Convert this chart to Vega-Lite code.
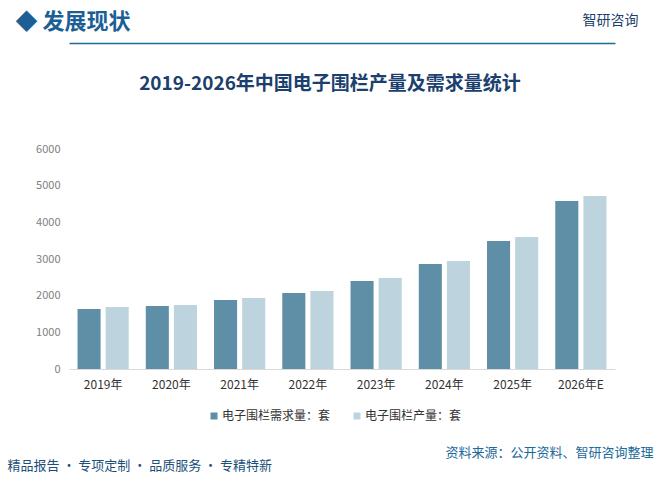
{
  "$schema": "https://vega.github.io/schema/vega-lite/v6.json",
  "width": 546,
  "height": 220,
  "autosize": {"type": "none"},
  "padding": {"left": 69, "top": 149, "right": 48, "bottom": 114},
  "background": "white",
  "config": {"font": "Noto Sans CJK SC", "view": {"stroke": null}},
  "title": {
    "text": "2019-2026年中国电子围栏产量及需求量统计",
    "fontSize": 19,
    "fontWeight": "bold",
    "color": "#1b406d",
    "anchor": "middle",
    "frame": "group",
    "dx": -12,
    "dy": 93,
    "baseline": "middle",
    "offset": 0
  },
  "data": {
    "values": [
      {"year": "2019年", "series": "电子围栏需求量：套", "value": 1636},
      {"year": "2019年", "series": "电子围栏产量：套", "value": 1690},
      {"year": "2020年", "series": "电子围栏需求量：套", "value": 1718},
      {"year": "2020年", "series": "电子围栏产量：套", "value": 1745},
      {"year": "2021年", "series": "电子围栏需求量：套", "value": 1882},
      {"year": "2021年", "series": "电子围栏产量：套", "value": 1936},
      {"year": "2022年", "series": "电子围栏需求量：套", "value": 2073},
      {"year": "2022年", "series": "电子围栏产量：套", "value": 2127},
      {"year": "2023年", "series": "电子围栏需求量：套", "value": 2400},
      {"year": "2023年", "series": "电子围栏产量：套", "value": 2482},
      {"year": "2024年", "series": "电子围栏需求量：套", "value": 2864},
      {"year": "2024年", "series": "电子围栏产量：套", "value": 2945},
      {"year": "2025年", "series": "电子围栏需求量：套", "value": 3490},
      {"year": "2025年", "series": "电子围栏产量：套", "value": 3600},
      {"year": "2026年E", "series": "电子围栏需求量：套", "value": 4582},
      {"year": "2026年E", "series": "电子围栏产量：套", "value": 4718}
    ]
  },
  "layer": [
    {
      "mark": {"type": "bar"},
      "encoding": {
        "x": {
          "field": "year", "type": "nominal", "sort": null,
          "scale": {"paddingInner": 0.25, "paddingOuter": 0.125},
          "axis": {
            "orient": "bottom",
            "labelFontSize": 12, "labelColor": "#333333", "labelPadding": 10, "labelAngle": 0,
            "domainColor": "#d9d9d9", "ticks": false, "grid": false,
            "title": "资料来源：公开资料、智研咨询整理",
            "titleX": 584, "titleY": 83, "titleAlign": "right", "titleBaseline": "middle",
            "titleFontSize": 13, "titleColor": "#1a6a9a", "titleFontWeight": "normal"
          }
        },
        "xOffset": {
          "field": "series", "type": "nominal",
          "sort": ["电子围栏需求量：套", "电子围栏产量：套"],
          "scale": {"paddingInner": 0.18}
        },
        "y": {
          "field": "value", "type": "quantitative",
          "scale": {"domain": [0, 6000]},
          "axis": {
            "orient": "left",
            "values": [0, 1000, 2000, 3000, 4000, 5000, 6000],
            "format": "d",
            "labelColor": "#808080", "labelFontSize": 11, "labelPadding": 9,
            "domain": false, "ticks": false, "grid": false,
            "title": "◆  发展现状",
            "titleAngle": 0, "titleAlign": "left", "titleBaseline": "middle",
            "titleX": -54, "titleY": -128,
            "titleFontSize": 22, "titleColor": "#1c5f95", "titleFontWeight": "bold"
          }
        },
        "color": {
          "field": "series", "type": "nominal",
          "scale": {"domain": ["电子围栏需求量：套", "电子围栏产量：套"], "range": ["#5e8fa6", "#bdd3dd"]},
          "legend": {
            "orient": "none", "legendX": 139, "legendY": 261,
            "direction": "horizontal", "title": null,
            "symbolType": "square", "symbolSize": 49, "symbolStrokeWidth": 0,
            "labelFontSize": 12, "labelColor": "#333333", "labelOffset": 2,
            "columnPadding": 20
          }
        }
      }
    },
    {
      "mark": {"type": "bar", "opacity": 0},
      "encoding": {
        "x": {
          "field": "year", "type": "nominal", "sort": null,
          "scale": {"paddingInner": 0.25, "paddingOuter": 0.125},
          "axis": {
            "orient": "top", "offset": 106,
            "labels": false, "ticks": false, "grid": false,
            "domain": true, "domainColor": "#1b6a9a", "domainWidth": 1.5,
            "title": "精品报告 · 专项定制 · 品质服务 · 专精特新",
            "titleX": -62, "titleY": 422, "titleAlign": "left", "titleBaseline": "middle",
            "titleFontSize": 13, "titleColor": "#1c4f7a", "titleFontWeight": "normal"
          }
        },
        "xOffset": {
          "field": "series", "type": "nominal",
          "sort": ["电子围栏需求量：套", "电子围栏产量：套"],
          "scale": {"paddingInner": 0.18}
        },
        "y": {
          "field": "value", "type": "quantitative",
          "scale": {"domain": [0, 6000]},
          "axis": {
            "orient": "right",
            "labels": false, "ticks": false, "grid": false, "domain": false,
            "title": "智研咨询",
            "titleAngle": 0, "titleAlign": "center", "titleBaseline": "middle",
            "titleX": -5, "titleY": -129,
            "titleFontSize": 14, "titleColor": "#1f3f6e", "titleFontWeight": "normal"
          }
        }
      }
    }
  ],
  "resolve": {"axis": {"x": "independent", "y": "independent"}}
}
